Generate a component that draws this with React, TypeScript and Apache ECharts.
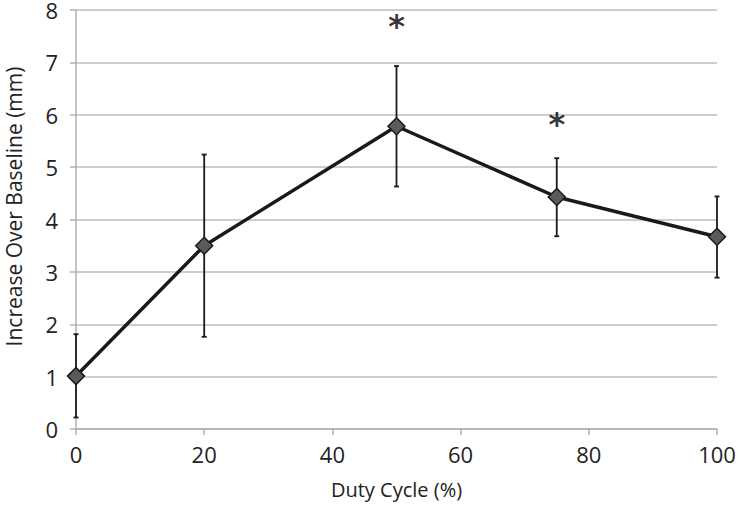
import React, { useEffect, useRef } from "react";
import * as echarts from "echarts";

const dutyCycle = [0, 20, 50, 75, 100];
const meanIncrease = [1.01, 3.5, 5.78, 4.43, 3.67];
const errLow = [0.22, 1.76, 4.63, 3.68, 2.89];
const errHigh = [1.81, 5.24, 6.93, 5.17, 4.44];
const starX = [50, 75];
const starY = [7.7, 5.82];

export default function App() {
  const ref = useRef<HTMLDivElement>(null);
  useEffect(() => {
    if (!ref.current) return;
    const chart = echarts.init(ref.current, undefined, { renderer: "svg" });
    const font = "'Open Sans', sans-serif";
    chart.setOption({
      animation: false,
      backgroundColor: "#ffffff",
      grid: { left: 76, right: 33, top: 10, bottom: 76, outerBoundsMode: "none", containLabel: false },
      xAxis: {
        type: "value",
        min: 0,
        max: 100,
        interval: 20,
        name: "Duty Cycle (%)",
        nameLocation: "middle",
        nameGap: 50,
        nameTextStyle: { fontSize: 20, color: "#222", fontFamily: font },
        axisLine: { show: true, lineStyle: { color: "#b0b0b0", width: 1.5 } },
        axisTick: { show: true, length: 6, lineStyle: { color: "#b0b0b0", width: 1.5 } },
        axisLabel: { fontSize: 22, color: "#222", fontFamily: font, margin: 14 },
        splitLine: { show: false },
      },
      yAxis: {
        type: "value",
        min: 0,
        max: 8,
        interval: 1,
        name: "Increase Over Baseline (mm)",
        nameLocation: "middle",
        nameGap: 52,
        nameTextStyle: { fontSize: 21, color: "#222", fontFamily: font, padding: [0, 0, 0, 26] },
        axisLine: { show: true, lineStyle: { color: "#b0b0b0", width: 1.5 } },
        axisTick: { show: true, length: 6, lineStyle: { color: "#b0b0b0", width: 1.5 } },
        axisLabel: { fontSize: 22, lineHeight: 18, color: "#222", fontFamily: font, margin: 18 },
        splitLine: { show: true, lineStyle: { color: "#bdbdbd", width: 1.5 } },
      },
      series: [
        {
          type: "custom",
          z: 1,
          renderItem: (params: any, api: any) => {
            const x = api.value(0);
            const lo = api.coord([x, api.value(1)]);
            const hi = api.coord([x, api.value(2)]);
            const cap = 2.5;
            const st = { stroke: "#1a1a1a", lineWidth: 1.8 };
            return {
              type: "group",
              children: [
                { type: "line", shape: { x1: lo[0], y1: lo[1], x2: hi[0], y2: hi[1] }, style: st },
                { type: "line", shape: { x1: lo[0] - cap, y1: lo[1], x2: lo[0] + cap, y2: lo[1] }, style: st },
                { type: "line", shape: { x1: hi[0] - cap, y1: hi[1], x2: hi[0] + cap, y2: hi[1] }, style: st },
              ],
            };
          },
          data: dutyCycle.map((d, i) => [d, errLow[i], errHigh[i]]),
        },
        {
          type: "line",
          z: 3,
          data: dutyCycle.map((d, i) => [d, meanIncrease[i]]),
          lineStyle: { color: "#1a1a1a", width: 3.5 },
          symbol: "diamond",
          symbolSize: 17,
          itemStyle: { color: "#5a5a5a", borderColor: "#1a1a1a", borderWidth: 1.5 },
        },
        {
          type: "scatter",
          z: 4,
          symbolSize: 1,
          itemStyle: { color: "transparent" },
          data: starX.map((x, i) => [x, starY[i]]),
          label: {
            show: true,
            position: "inside",
            formatter: "*",
            fontSize: 32,
            fontWeight: "bold",
            color: "#000000",
            fontFamily: "'DejaVu Sans', sans-serif",
          },
        },
      ],
    });
    return () => chart.dispose();
  }, []);
  return (
    <div
      ref={ref}
      style={{ position: "fixed", left: 0, top: 0, width: 750, height: 505, overflow: "hidden" }}
    />
  );
}
